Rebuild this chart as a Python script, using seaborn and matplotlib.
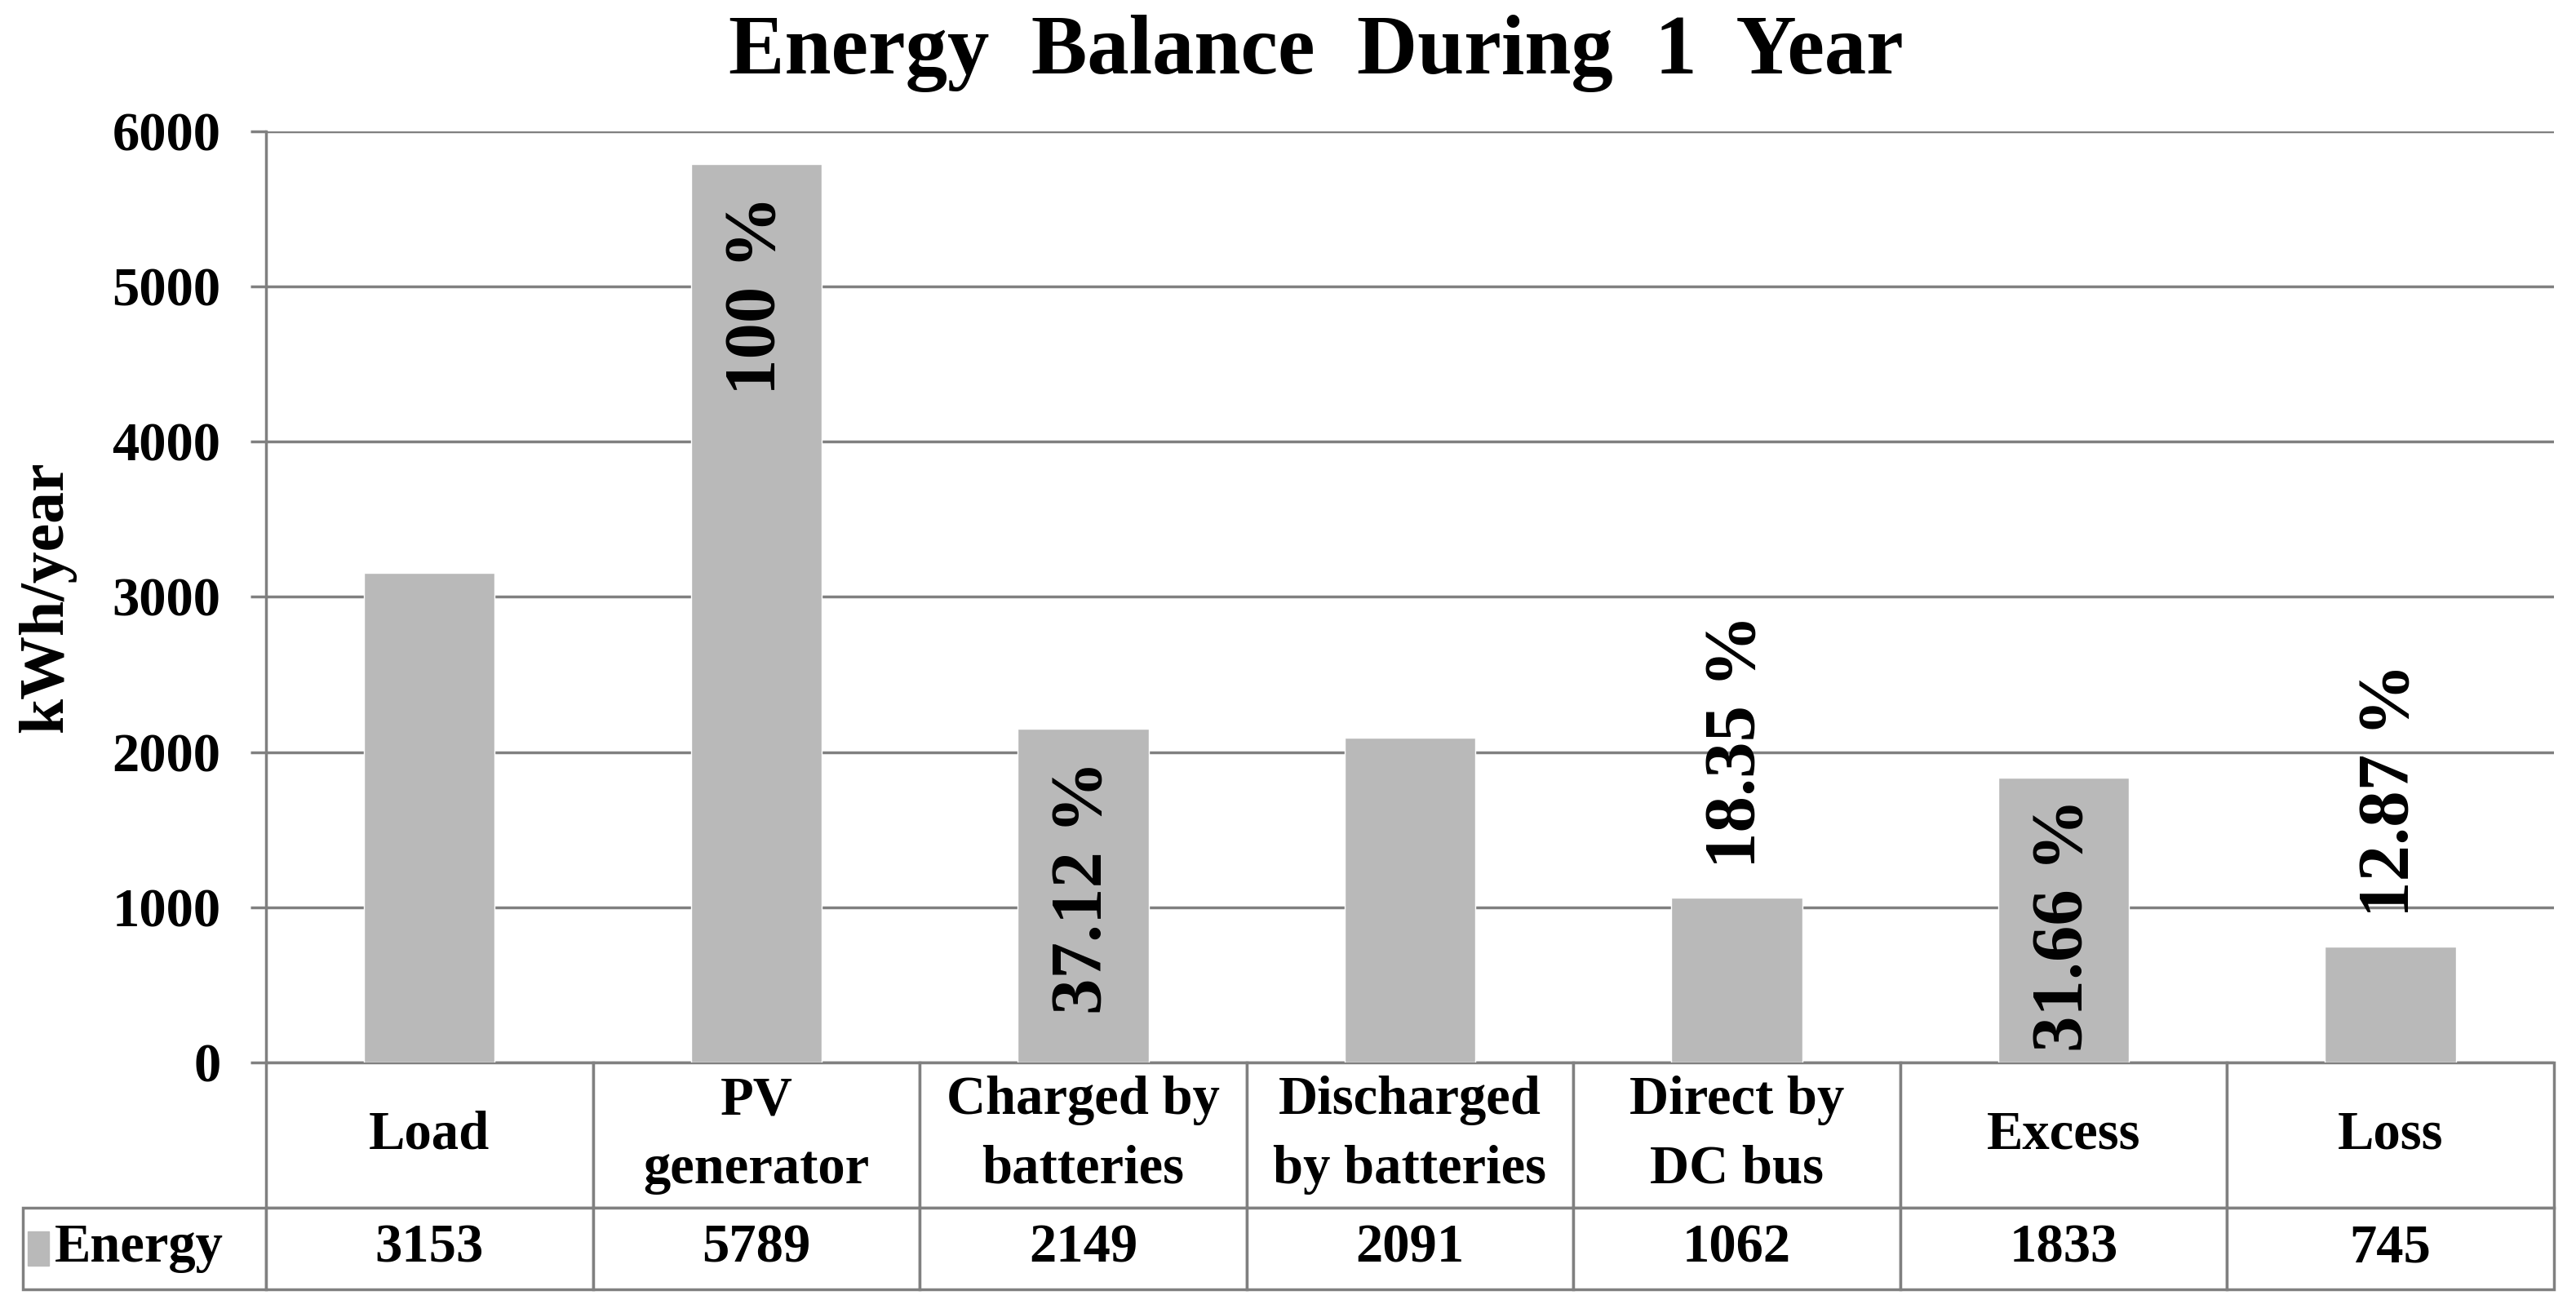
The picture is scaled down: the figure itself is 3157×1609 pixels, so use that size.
#!/usr/bin/env python3

# Energy balance bar chart with a data table underneath (Excel look).

import matplotlib
matplotlib.use("Agg")
import matplotlib.pyplot as plt
from matplotlib.patches import Rectangle
import seaborn as sns

categories = ["Load", "PV\ngenerator", "Charged by\nbatteries", "Discharged\nby batteries",
              "Direct by\nDC bus", "Excess", "Loss"]
energy = [3153, 5789, 2149, 2091, 1062, 1833, 745]
pct_labels = [None, "100 %", "37.12 %", None, "18.35 %", "31.66 %", "12.87 %"]
series_name = "Energy"
y_ticks = [0, 1000, 2000, 3000, 4000, 5000, 6000]

BAR = "#b9b9b9"
LINE = "#808080"

sns.set_theme(style="white")
plt.rcParams["font.family"] = ["Liberation Serif", "DejaVu Serif"]
plt.rcParams["font.weight"] = "bold"
plt.rcParams["text.color"] = "black"
plt.rcParams["axes.labelcolor"] = "black"
plt.rcParams["ytick.labelcolor"] = "black"

fig = plt.figure(figsize=(31.57, 16.09), dpi=100)
ax = fig.add_axes([0.1033, 0.1908, 0.8881, 0.7092])

sns.barplot(x=list(range(len(energy))), y=energy, color=BAR, saturation=1,
            width=0.4, ax=ax, native_scale=True)
ax.set_xlim(-0.5, len(energy) - 0.5)
ax.set_ylim(0, 6000)
ax.set_yticks(y_ticks)
ax.yaxis.grid(True, color=LINE, lw=2.5)
ax.set_axisbelow(True)
ax.tick_params(axis="x", length=0, labelbottom=False)
ax.tick_params(axis="y", length=14, width=2.5, color=LINE, pad=26,
               labelsize=48, labelcolor="black", left=True)
for lab in ax.get_yticklabels():
    lab.set_fontweight("bold")
for s in ["top", "right", "bottom"]:
    ax.spines[s].set_visible(False)
ax.spines["left"].set_color(LINE)
ax.spines["left"].set_linewidth(2.5)
ax.set_xlabel("")
ax.set_ylabel("kWh/year", fontsize=56, fontweight="bold", color="black")
ax.yaxis.set_label_coords(-0.083, 0.5)

fig.text(0.511, 0.959, "Energy  Balance  During  1  Year", ha="center", va="center",
         fontsize=74, fontweight="bold", color="black")

# percentage labels, rotated; inside the bar if it is tall enough
fig.canvas.draw()
renderer = fig.canvas.get_renderer()
for i, (v, p) in enumerate(zip(energy, pct_labels)):
    if p is None:
        continue
    t = ax.text(i, 0, p, rotation=90, ha="center", va="bottom",
                fontsize=64, fontweight="bold", color="black")
    bb = t.get_window_extent(renderer).transformed(ax.transData.inverted())
    L = bb.height
    if v > 1500:
        y0 = max(v - 200 - L, 70)
    else:
        y0 = v + 190
    t.set_y(y0)

# data table under the plot
lab_w = 0.1063
hdr_h = 0.156
row_h = 0.0876
n = len(categories)
tbl = ax.table(cellText=[[series_name] + [str(v) for v in energy]],
               colLabels=[""] + categories,
               colWidths=[lab_w] + [1 / n] * n,
               cellLoc="center",
               bbox=[-lab_w, -(hdr_h + row_h), 1 + lab_w, hdr_h + row_h])
tbl.auto_set_font_size(False)
tbl.set_fontsize(48)
for (r, c), cell in tbl.get_celld().items():
    cell.set_edgecolor(LINE)
    cell.set_linewidth(2.5)
    cell.set_height(hdr_h if r == 0 else row_h)
    cell.get_text().set_fontweight("bold")
    cell.get_text().set_color("black")
    cell.get_text().set_linespacing(1.5)
tbl[0, 0].visible_edges = ""
tbl[1, 0].get_text().set_ha("left")
tbl[1, 0].PAD = 0.13
tbl[1, 0]._loc = "left"

ax.add_patch(Rectangle((-0.1043, -0.1998 - 0.018), 0.0095, 0.036,
                       transform=ax.transAxes, color=BAR, clip_on=False))

fig.savefig("out.png", dpi=100)
